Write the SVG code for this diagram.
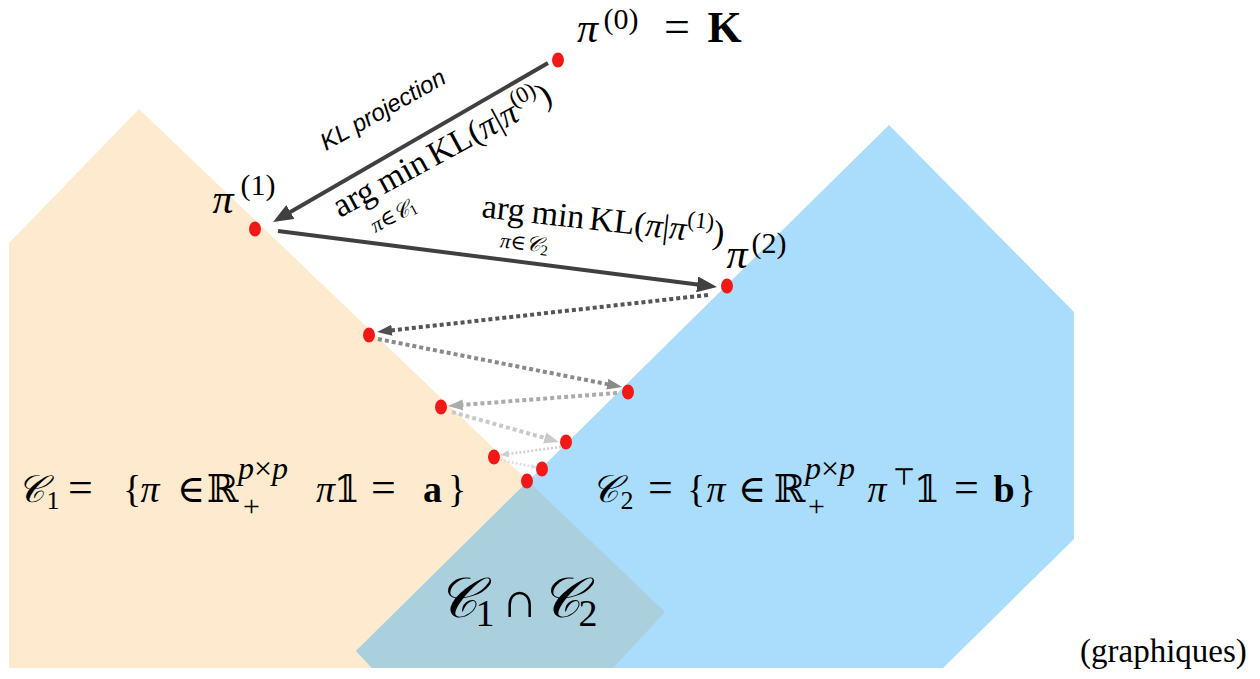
<svg xmlns="http://www.w3.org/2000/svg" width="1260" height="679" viewBox="0 0 1260 679">
<style>
.m{font-family:"Liberation Serif","DejaVu Serif",serif;fill:#000}
.c{text-anchor:middle}
.s{text-anchor:start}
.i{font-style:italic}
.b{font-weight:bold}
.kl{font-family:"Liberation Sans",Arial,sans-serif;font-style:italic;fill:#000}
.dot{fill:#f21818}
.solid{fill:none;stroke:#404040;stroke-width:4}
.dash{fill:none;stroke-width:4;stroke-dasharray:4 3}
.fine{fill:none;stroke-width:2.5;stroke-dasharray:2 2}
</style>
<defs>
<marker id="hs" markerUnits="userSpaceOnUse" markerWidth="20" markerHeight="16" refX="10" refY="8" orient="auto"><path d="M0,0 L20,8 L0,16 z" fill="#404040"/></marker>
<marker id="h1" markerUnits="userSpaceOnUse" markerWidth="15" markerHeight="12" refX="7" refY="6" orient="auto"><path d="M0,0.5 L15,6 L0,11.5 z" fill="#505050"/></marker>
<marker id="h2" markerUnits="userSpaceOnUse" markerWidth="15" markerHeight="12" refX="7" refY="6" orient="auto"><path d="M0,0.5 L15,6 L0,11.5 z" fill="#8a8a8a"/></marker>
<marker id="h3" markerUnits="userSpaceOnUse" markerWidth="15" markerHeight="12" refX="7" refY="6" orient="auto"><path d="M0,0.5 L15,6 L0,11.5 z" fill="#ababab"/></marker>
<marker id="h4" markerUnits="userSpaceOnUse" markerWidth="15" markerHeight="12" refX="7" refY="6" orient="auto"><path d="M0,0.5 L15,6 L0,11.5 z" fill="#c9c9c9"/></marker>
<marker id="h5" markerUnits="userSpaceOnUse" markerWidth="9" markerHeight="8" refX="4" refY="4" orient="auto"><path d="M0,0.5 L9,4 L0,7.5 z" fill="#cfcfcf"/></marker>
<marker id="h6" markerUnits="userSpaceOnUse" markerWidth="7" markerHeight="6" refX="3" refY="3" orient="auto"><path d="M0,0.5 L7,3 L0,5.5 z" fill="#dddddd"/></marker>
</defs>

<g id="regions">
<polygon id="C1" points="139,109 665,612 613,668 9,668 9,243" fill="#FEEBCF"/>
<polygon id="C2" points="889,125 1074,312 1074,539 943,668 372,668 356,651" fill="#AADCFC"/>
<polygon id="C1C2" points="528,481 665,612 613,668 372,668 356,651" fill="#AAD0DE"/>
</g>

<g id="connectors">
<path class="solid" d="M548,63 L281.7,217" marker-end="url(#hs)"/>
<path class="solid" d="M278,231 L707.1,285.7" marker-end="url(#hs)"/>
<path class="dash" stroke="#555555" d="M708,295 L385,331.1" marker-end="url(#h1)"/>
<path class="dash" stroke="#8a8a8a" d="M378,339 L614.2,385.5" marker-end="url(#h2)"/>
<path class="dash" stroke="#ababab" d="M617,393 L456,405.4" marker-end="url(#h3)"/>
<path class="dash" stroke="#c9c9c9" d="M452,412 L551.3,439.8" marker-end="url(#h4)"/>
<path class="fine" stroke="#cfcfcf" d="M561,447 L505,454.3" marker-end="url(#h5)"/>
<path class="fine" stroke="#dddddd" d="M500,460 L534,467" marker-end="url(#h6)"/>
<path class="fine" stroke="#dddddd" d="M540,474 L533,478"/>
</g>

<g id="label-kl">
<text class="kl" font-size="24" transform="translate(326,151) rotate(-29.5)">KL projection</text>
<g transform="translate(340,218) rotate(-28.5)">
<text class="m" font-size="34" x="0" y="0">arg<tspan x="50">min</tspan><tspan x="108">KL(</tspan><tspan class="i">π</tspan>|<tspan class="i">π</tspan><tspan font-size="23" dy="-14">(0)</tspan><tspan font-size="34" dy="14">)</tspan></text>
<text class="m" font-size="21" x="48" y="30" text-anchor="middle"><tspan class="i">π</tspan>∈<tspan class="i">𝒞</tspan><tspan font-size="15" dy="3">1</tspan></text>
</g>
<g transform="translate(481,217) rotate(6.5)">
<text class="m" font-size="34" x="0" y="0">arg<tspan x="50">min</tspan><tspan x="108">KL(</tspan><tspan class="i">π</tspan>|<tspan class="i">π</tspan><tspan font-size="23" dy="-14">(1)</tspan><tspan font-size="34" dy="14">)</tspan></text>
<text class="m" font-size="21" x="46" y="28" text-anchor="middle"><tspan class="i">π</tspan>∈<tspan class="i">𝒞</tspan><tspan font-size="15" dy="3">2</tspan></text>
</g>
</g>

<g id="p0">
<ellipse class="dot" cx="558" cy="60" rx="6" ry="7.5"/>
<text class="m c" font-size="42" y="42"><tspan x="587.5" class="i">π</tspan><tspan x="621" y="29" font-size="30">(0)</tspan><tspan x="677" y="42" font-size="46">=</tspan><tspan x="724.5" class="b" font-size="44">K</tspan></text>
</g>
<g id="p1">
<ellipse class="dot" cx="255" cy="229" rx="6" ry="7.5"/>
<text class="m c" font-size="42" y="213"><tspan x="223" class="i">π</tspan><tspan x="258" y="195" font-size="30">(1)</tspan></text>
</g>
<g id="p2">
<ellipse class="dot" cx="727" cy="286" rx="6" ry="7.5"/>
<text class="m c" font-size="42" y="268"><tspan x="737" class="i">π</tspan><tspan x="769" y="253" font-size="30">(2)</tspan></text>
</g>
<g id="iterates">
<ellipse class="dot" cx="369" cy="335" rx="6" ry="7.5"/>
<ellipse class="dot" cx="628" cy="392" rx="6" ry="7.5"/>
<ellipse class="dot" cx="441" cy="407" rx="6" ry="7.5"/>
<ellipse class="dot" cx="566" cy="442" rx="6" ry="7.5"/>
<ellipse class="dot" cx="494" cy="457" rx="6" ry="7.5"/>
<ellipse class="dot" cx="542" cy="469" rx="6" ry="7.5"/>
<ellipse class="dot" cx="527" cy="481" rx="6" ry="7.5"/>
</g>

<g id="label-C1">
<text class="m c" font-size="38" y="502"><tspan x="31" class="i">𝒞</tspan><tspan x="53" y="509" font-size="26">1</tspan><tspan x="80.5" y="502" font-size="44">=</tspan><tspan x="132">{</tspan><tspan x="150" class="i">π</tspan><tspan x="191">∈</tspan><tspan x="222.5">ℝ</tspan><tspan class="s" x="238" y="479" font-size="32"><tspan class="i">p</tspan>×<tspan class="i">p</tspan></tspan><tspan class="s" x="243" y="516" font-size="30">+</tspan><tspan x="325.5" y="502" class="i">π</tspan><tspan x="347">𝟙</tspan><tspan x="383.5" font-size="44">=</tspan><tspan x="432.5" class="b">a</tspan><tspan x="457">}</tspan></text>
</g>
<g id="label-C2">
<text class="m c" font-size="38" y="502"><tspan x="605" class="i">𝒞</tspan><tspan x="627" y="509" font-size="26">2</tspan><tspan x="660.5" y="502" font-size="44">=</tspan><tspan x="696">{</tspan><tspan x="716" class="i">π</tspan><tspan x="752">∈</tspan><tspan x="789.5">ℝ</tspan><tspan class="s" x="805" y="479" font-size="32"><tspan class="i">p</tspan>×<tspan class="i">p</tspan></tspan><tspan class="s" x="808" y="516" font-size="30">+</tspan><tspan x="877" y="502" class="i">π</tspan><tspan x="904" y="485" font-size="24">⊤</tspan><tspan x="927" y="502">𝟙</tspan><tspan x="966.5" font-size="44">=</tspan><tspan x="1004" class="b">b</tspan><tspan x="1026.5">}</tspan></text>
</g>
<g id="label-C1C2">
<text class="m c" font-size="56" y="617"><tspan x="457" class="i">𝒞</tspan><tspan x="485" y="626" font-size="38">1</tspan><tspan x="519.5" y="617" font-size="50">∩</tspan><tspan x="560" font-size="56" class="i">𝒞</tspan><tspan x="588" y="626" font-size="38">2</tspan></text>
</g>
<text id="caption" class="m" font-size="33" x="1080" y="662">(graphiques)</text>
</svg>
